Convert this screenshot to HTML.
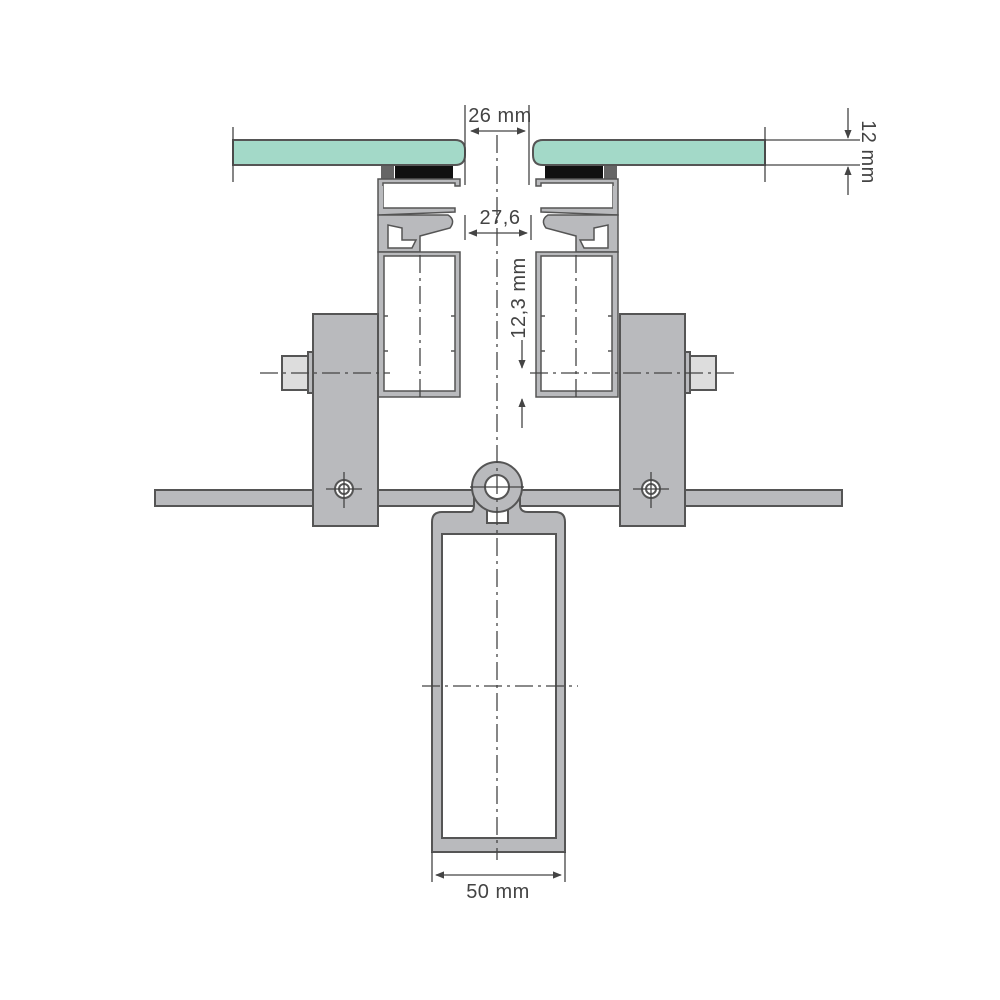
<!DOCTYPE html>
<html><head><meta charset="utf-8"><style>html,body{margin:0;padding:0;background:#fff}svg{display:block}</style></head>
<body>
<svg width="1000" height="1000" viewBox="0 0 1000 1000" xmlns="http://www.w3.org/2000/svg" font-family="Liberation Sans, sans-serif">
<defs>
<marker id="ar" viewBox="0 0 10 10" refX="9" refY="5" markerWidth="7" markerHeight="7" orient="auto-start-reverse"><path d="M0,1 L10,5 L0,9 z" fill="#444"/></marker>
</defs>
<g stroke="#555" stroke-width="2">
<path d="M233,140 H455 Q465,140 465,150 V155 Q465,165 455,165 H233 Z" fill="#a3d9c8"/>
<path d="M765,140 H543 Q533,140 533,150 V155 Q533,165 543,165 H765 Z" fill="#a3d9c8"/>
</g>
<rect x="381" y="166" width="13" height="13" fill="#666"/>
<rect x="395" y="166" width="58" height="13" fill="#111"/>
<rect x="604" y="166" width="13" height="13" fill="#666"/>
<rect x="545" y="166" width="58" height="13" fill="#111"/>
<g id="pl" fill="#b9babd" stroke="#555" stroke-width="1.5">
<path d="M378,179 H460 V186 H455 V183 H383 V208 H455 V212 L378,215 Z" />
<path d="M378,215 H448 Q456,220 450,228 L420,236 V252 H378 Z M388,225 V248 H412 L416,240 H402 V228 Z" fill-rule="evenodd"/>
<path d="M378,252 H460 V397 H378 Z M384,256 V391 H455 V256 Z" fill-rule="evenodd"/>
<rect x="379" y="186" width="4" height="28" stroke="none"/>
</g>
<use href="#pl" transform="translate(996,0) scale(-1,1)"/>
<g stroke="#555" stroke-width="1.5" fill="none">
<path d="M384,316 h4 M384,351 h4 M455,316 h-4 M455,351 h-4"/>
<path d="M612,316 h-4 M612,351 h-4 M541,316 h4 M541,351 h4"/>
</g>
<g fill="#b9babd" stroke="#555" stroke-width="2">
<rect x="155" y="490" width="687" height="16"/>
<rect x="313" y="314" width="65" height="212"/>
<rect x="620" y="314" width="65" height="212"/>
<rect x="282" y="356" width="26" height="34" fill="#ddd"/>
<rect x="308" y="352" width="5" height="41"/>
<rect x="690" y="356" width="26" height="34" fill="#ddd"/>
<rect x="685" y="352" width="5" height="41"/>
<path d="M432,522 Q432,512 442,512 H470 Q474,512 474,505 V490 H520 V505 Q520,512 528,512 H555 Q565,512 565,522 V852 H432 Z M442,534 V838 H556 V534 Z" fill-rule="evenodd"/>
<rect x="487" y="503" width="21" height="20" fill="#fff"/>
<circle cx="497" cy="487" r="25"/>
<circle cx="497" cy="487" r="12" fill="#fff"/>
<circle cx="344" cy="489" r="9" fill="#fff"/>
<circle cx="344" cy="489" r="5" fill="#fff"/>
<circle cx="651" cy="489" r="9" fill="#fff"/>
<circle cx="651" cy="489" r="5" fill="#fff"/>
</g>
<g stroke="#444" stroke-width="1.3" fill="none" stroke-dasharray="18,5,3,5">
<path d="M497,135 V860"/>
<path d="M420,255 V400 M576,255 V400"/>
<path d="M260,373 H390 M530,373 H738"/>
<path d="M422,686 H578"/>
</g>
<g stroke="#444" stroke-width="1.3">
<path d="M344,472 V508 M326,489 H362 M651,472 V508 M633,489 H669 M470,487 H524"/>
</g>
<g stroke="#444" stroke-width="1.3" fill="none">
<path d="M233,127 V182 M765,127 V182"/>
<path d="M465,105 V185 M529,105 V185"/>
<path d="M471,131 H525" marker-start="url(#ar)" marker-end="url(#ar)"/>
<path d="M465,215 V240 M531,215 V240"/>
<path d="M469,233 H527" marker-start="url(#ar)" marker-end="url(#ar)"/>
<path d="M765,140 H860 M765,165 H860"/>
<path d="M848,108 V138" marker-end="url(#ar)"/>
<path d="M848,195 V167" marker-end="url(#ar)"/>
<path d="M522,340 V368" marker-end="url(#ar)"/>
<path d="M522,428 V399" marker-end="url(#ar)"/>
<path d="M432,852 V882 M565,852 V882"/>
<path d="M436,875 H561" marker-start="url(#ar)" marker-end="url(#ar)"/>
</g>
<g fill="#444" font-size="20" letter-spacing="0.5">
<text x="500" y="122" text-anchor="middle">26 mm</text>
<text x="500" y="224" text-anchor="middle">27,6</text>
<text x="498" y="898" text-anchor="middle">50 mm</text>
<text transform="translate(862,152) rotate(90)" text-anchor="middle">12 mm</text>
<text transform="translate(525,298) rotate(-90)" text-anchor="middle">12,3 mm</text>
</g>
</svg>
</body></html>
